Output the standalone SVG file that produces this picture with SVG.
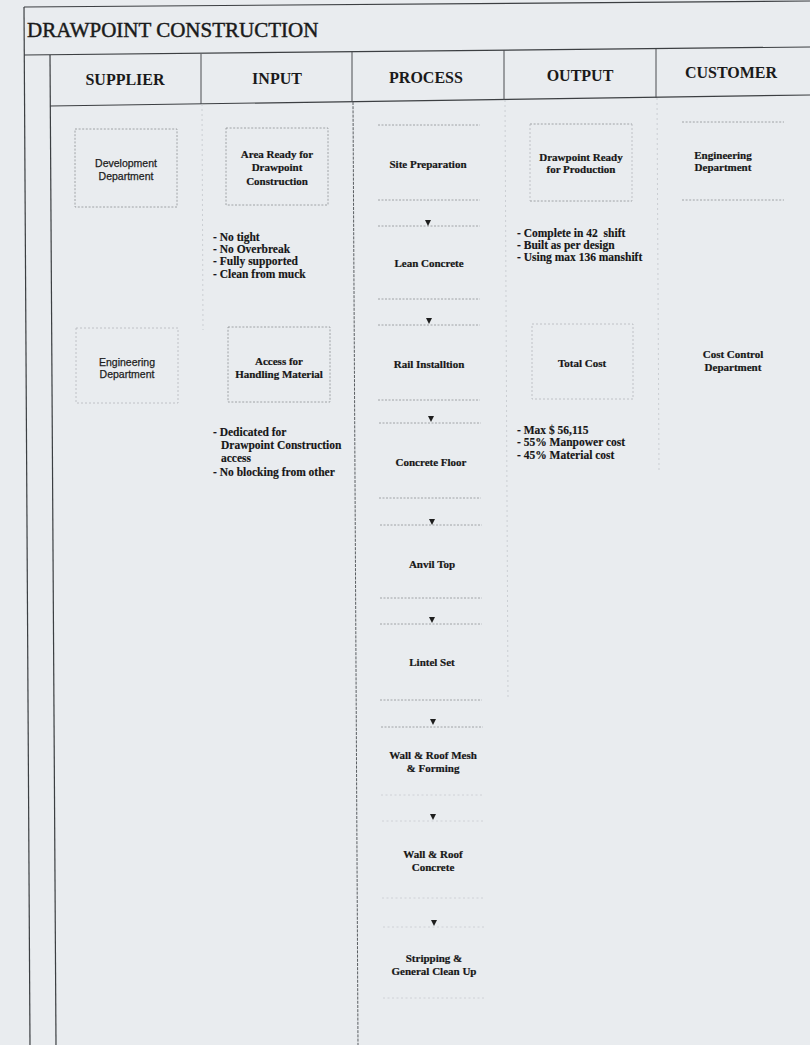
<svg xmlns="http://www.w3.org/2000/svg" width="810" height="1045" viewBox="0 0 810 1045">
<style>
.bg{fill:#e9ecef}
.frame{stroke:#3c3f42;stroke-width:1.2;fill:none}
.div{stroke:#4a4d50;stroke-width:1;fill:none}
.pdiv{stroke:#5a5e62;stroke-width:1;stroke-dasharray:3 1.2;fill:none}
.fdiv{stroke:#c3c7cb;stroke-width:0.8;stroke-dasharray:2 3;fill:none}
.box{stroke:#8e9296;stroke-width:0.8;stroke-dasharray:2 1.6;fill:none}
.boxf{stroke:#b4b8bc;stroke-width:0.8;stroke-dasharray:2 2;fill:none}
.pl{stroke:#8e9296;stroke-width:0.8;stroke-dasharray:2 1.5;fill:none}
.plf{stroke:#c8ccd0;stroke-width:0.8;stroke-dasharray:2 2.5;fill:none}
.title{font-family:"Liberation Serif",serif;font-size:21px;fill:#1a1a1a;stroke:#1a1a1a;stroke-width:0.45}
.hdr{font-family:"Liberation Serif",serif;font-size:16px;font-weight:bold;fill:#1a1a1a;text-anchor:middle}
.lbl{font-family:"Liberation Serif",serif;font-size:11px;font-weight:bold;fill:#161616;stroke:#161616;stroke-width:0.2;text-anchor:middle}
.sans{font-family:"Liberation Sans",Arial,sans-serif;font-size:10.5px;fill:#1c1c1c;stroke:#1c1c1c;stroke-width:0.25;text-anchor:middle}
.bul{font-family:"Liberation Serif",serif;font-size:11.5px;font-weight:bold;fill:#161616;stroke:#161616;stroke-width:0.15}
.arr{fill:#1e1e1e}
</style>
<rect class="bg" x="0" y="0" width="810" height="1045"/>

<g id="frame">
  <line class="frame" x1="24" y1="7" x2="810" y2="1"/>
  <line class="frame" x1="24" y1="7" x2="30" y2="1045"/>
  <line class="frame" x1="24" y1="55" x2="810" y2="47"/>
  <line class="frame" x1="50" y1="55" x2="56" y2="1045"/>
  <line class="frame" x1="50" y1="106" x2="810" y2="95"/>
  <line class="div" x1="201" y1="54" x2="201" y2="104"/>
  <line class="div" x1="352" y1="52" x2="352" y2="102"/>
  <line class="div" x1="504" y1="50" x2="504" y2="100"/>
  <line class="div" x1="656" y1="49" x2="656" y2="98"/>
  <line class="pdiv" x1="353" y1="102" x2="358" y2="1045"/>
  <line class="fdiv" x1="202" y1="104" x2="203" y2="330"/>
  <line class="fdiv" x1="505" y1="100" x2="508" y2="700"/>
  <line class="fdiv" x1="657" y1="98" x2="659" y2="470"/>
</g>

<g id="title">
  <text class="title" x="27" y="37">DRAWPOINT CONSTRUCTION</text>
</g>

<g id="headers">
  <text class="hdr" x="125" y="85">SUPPLIER</text>
  <text class="hdr" x="277" y="84">INPUT</text>
  <text class="hdr" x="426" y="83">PROCESS</text>
  <text class="hdr" x="580" y="81">OUTPUT</text>
  <text class="hdr" x="731" y="78">CUSTOMER</text>
</g>

<g id="supplier-development">
  <rect class="box" x="75" y="129" width="102" height="78"/>
  <text class="sans" x="126" y="167">Development</text>
  <text class="sans" x="126" y="180">Department</text>
</g>
<g id="supplier-engineering">
  <rect class="boxf" x="76" y="328" width="102" height="75"/>
  <text class="sans" x="127" y="366">Engineering</text>
  <text class="sans" x="127" y="378">Department</text>
</g>

<g id="input-area-ready">
  <rect class="box" x="226" y="128" width="102" height="77"/>
  <text class="lbl" x="277" y="158">Area Ready for</text>
  <text class="lbl" x="277" y="171">Drawpoint</text>
  <text class="lbl" x="277" y="185">Construction</text>
</g>
<g id="input-area-notes">
  <text class="bul" x="213" y="241">- No tight</text>
  <text class="bul" x="213" y="253">- No Overbreak</text>
  <text class="bul" x="213" y="265">- Fully supported</text>
  <text class="bul" x="213" y="278">- Clean from muck</text>
</g>
<g id="input-access">
  <rect class="box" x="228" y="327" width="102" height="75"/>
  <text class="lbl" x="279" y="365">Access for</text>
  <text class="lbl" x="279" y="378">Handling Material</text>
</g>
<g id="input-access-notes">
  <text class="bul" x="213" y="436">- Dedicated for</text>
  <text class="bul" x="221" y="449">Drawpoint Construction</text>
  <text class="bul" x="221" y="462">access</text>
  <text class="bul" x="213" y="476">- No blocking from other</text>
</g>

<g id="process-site-preparation">
  <line class="pl" x1="378" y1="125" x2="480" y2="125"/>
  <line class="pl" x1="378" y1="200" x2="480" y2="200"/>
  <text class="lbl" x="428" y="168">Site Preparation</text>
</g>
<g id="process-lean-concrete">
  <line class="pl" x1="378" y1="226" x2="480" y2="226"/>
  <line class="pl" x1="378" y1="299" x2="480" y2="299"/>
  <text class="lbl" x="429" y="267">Lean Concrete</text>
</g>
<g id="process-rail-installation">
  <line class="pl" x1="378" y1="325" x2="480" y2="325"/>
  <line class="pl" x1="378" y1="400" x2="480" y2="400"/>
  <text class="lbl" x="429" y="368">Rail Installtion</text>
</g>
<g id="process-concrete-floor">
  <line class="pl" x1="379" y1="423" x2="481" y2="423"/>
  <line class="pl" x1="379" y1="498" x2="481" y2="498"/>
  <text class="lbl" x="431" y="466">Concrete Floor</text>
</g>
<g id="process-anvil-top">
  <line class="pl" x1="380" y1="525" x2="482" y2="525"/>
  <line class="pl" x1="380" y1="598" x2="482" y2="598"/>
  <text class="lbl" x="432" y="568">Anvil Top</text>
</g>
<g id="process-lintel-set">
  <line class="pl" x1="380" y1="624" x2="482" y2="624"/>
  <line class="pl" x1="380" y1="700" x2="482" y2="700"/>
  <text class="lbl" x="432" y="666">Lintel Set</text>
</g>
<g id="process-wall-roof-mesh">
  <line class="pl" x1="381" y1="727" x2="483" y2="727"/>
  <line class="plf" x1="381" y1="795" x2="483" y2="795"/>
  <text class="lbl" x="433" y="759">Wall &amp; Roof Mesh</text>
  <text class="lbl" x="433" y="772">&amp; Forming</text>
</g>
<g id="process-wall-roof-concrete">
  <line class="plf" x1="382" y1="821" x2="484" y2="821"/>
  <line class="plf" x1="382" y1="898" x2="484" y2="898"/>
  <text class="lbl" x="433" y="858">Wall &amp; Roof</text>
  <text class="lbl" x="433" y="871">Concrete</text>
</g>
<g id="process-stripping">
  <line class="plf" x1="383" y1="927" x2="485" y2="927"/>
  <line class="plf" x1="383" y1="998" x2="485" y2="998"/>
  <text class="lbl" x="434" y="962">Stripping &amp;</text>
  <text class="lbl" x="434" y="975">General Clean Up</text>
</g>

<g id="output-drawpoint-ready">
  <line class="box" x1="530" y1="124" x2="632" y2="124"/>
  <line class="box" x1="530" y1="201" x2="632" y2="201"/>
  <line class="boxf" x1="530" y1="124" x2="530" y2="201"/>
  <line class="boxf" x1="632" y1="124" x2="632" y2="201"/>
  <text class="lbl" x="581" y="161">Drawpoint Ready</text>
  <text class="lbl" x="581" y="173">for Production</text>
</g>
<g id="output-drawpoint-notes">
  <text class="bul" x="517" y="237">- Complete in 42&#160; shift</text>
  <text class="bul" x="517" y="249">- Built as per design</text>
  <text class="bul" x="517" y="261">- Using max 136 manshift</text>
</g>
<g id="output-total-cost">
  <rect class="boxf" x="532" y="324" width="101" height="75"/>
  <text class="lbl" x="582" y="367">Total Cost</text>
</g>
<g id="output-cost-notes">
  <text class="bul" x="517" y="434">- Max $ 56,115</text>
  <text class="bul" x="517" y="446">- 55% Manpower cost</text>
  <text class="bul" x="517" y="459">- 45% Material cost</text>
</g>

<g id="customer-engineering">
  <line class="box" x1="682" y1="122" x2="784" y2="122"/>
  <line class="box" x1="682" y1="200" x2="784" y2="200"/>
  <text class="lbl" x="723" y="159">Engineering</text>
  <text class="lbl" x="723" y="171">Department</text>
</g>
<g id="customer-cost-control">
  <text class="lbl" x="733" y="358">Cost Control</text>
  <text class="lbl" x="733" y="371">Department</text>
</g>

<g id="connectors">
  <path class="arr" d="M425,220 L431,220 L428,226 Z"/>
  <path class="arr" d="M426,318 L432,318 L429,324 Z"/>
  <path class="arr" d="M428,416 L434,416 L431,422 Z"/>
  <path class="arr" d="M429,519 L435,519 L432,525 Z"/>
  <path class="arr" d="M429,617 L435,617 L432,623 Z"/>
  <path class="arr" d="M430,719 L436,719 L433,725 Z"/>
  <path class="arr" d="M430,814 L436,814 L433,820 Z"/>
  <path class="arr" d="M431,920 L437,920 L434,926 Z"/>
</g>
</svg>
